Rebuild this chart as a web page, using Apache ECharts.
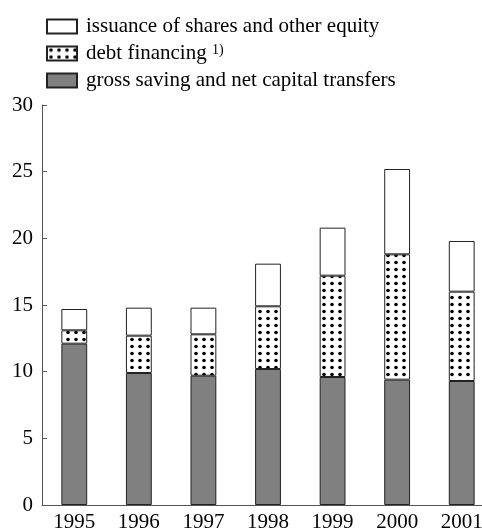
<!DOCTYPE html>
<html>
<head>
<meta charset="utf-8">
<script src="https://cdn.jsdelivr.net/npm/echarts@6/dist/echarts.min.js"></script>
<style>
  html, body { margin: 0; padding: 0; background: #fff; }
  #main { width: 482px; height: 532px; }
</style>
</head>
<body>
<div id="main"></div>
<script>
// data
var years = ["1995", "1996", "1997", "1998", "1999", "2000", "2001"];
var grossSaving = [12.1, 9.9, 9.7, 10.2, 9.6, 9.4, 9.3];
var debtFinancing = [1.0, 2.8, 3.1, 4.7, 7.6, 9.4, 6.7];
var equityIssuance = [1.6, 2.1, 2.0, 3.2, 3.6, 6.4, 3.8];
var yTicks = [0, 5, 10, 15, 20, 25, 30];

(function() {
    var myChart = echarts.init(document.getElementById("main"));

    // dotted fill for debt financing
    var dots = document.createElement("canvas");
    dots.width = 8;
    dots.height = 7;
    var ctx = dots.getContext("2d");
    ctx.fillStyle = "#fff";
    ctx.fillRect(0, 0, 8, 7);
    ctx.fillStyle = "#000";
    ctx.beginPath();
    ctx.arc(4, 3.5, 1.8, 0, Math.PI * 2);
    ctx.fill();

    var font = "Liberation Serif";
    var border = { borderColor: "#222", borderWidth: 1 };

    var option = {
        animation: false,
        textStyle: { fontFamily: font },
        legend: {
            orient: "vertical",
            left: 41,
            top: 11,
            icon: "rect",
            itemWidth: 30,
            itemHeight: 14,
            itemGap: 6,
            data: ["issuance of shares and other equity", "debt financing", "gross saving and net capital transfers"],
            formatter: function(name) {
                return name === "debt financing" ? name + " {sup|1)}" : name;
            },
            textStyle: {
                fontFamily: font,
                fontSize: 21,
                lineHeight: 21,
                color: "#000",
                padding: [0, 0, 0, 4],
                rich: {
                    sup: { fontFamily: font, fontSize: 14, lineHeight: 14, verticalAlign: "top", color: "#000" }
                }
            }
        },
        grid: {
            left: 42,
            top: 105,
            right: -12,
            bottom: 27,
            outerBoundsMode: "none"
        },
        xAxis: {
            type: "category",
            data: years,
            axisLine: { lineStyle: { color: "#555", width: 1 } },
            axisTick: { inside: true, length: 6, lineStyle: { color: "#555" } },
            axisLabel: { color: "#000", fontSize: 21, fontFamily: font, margin: 7 }
        },
        yAxis: {
            type: "value",
            min: yTicks[0],
            max: yTicks[yTicks.length - 1],
            interval: 5,
            axisLine: { show: true, lineStyle: { color: "#555", width: 1 } },
            axisTick: { show: true, inside: true, length: 5, lineStyle: { color: "#555" } },
            axisLabel: { color: "#000", fontSize: 21, fontFamily: font, margin: 9 },
            splitLine: { show: false }
        },
        series: [{
                name: "gross saving and net capital transfers",
                type: "bar",
                stack: "total",
                barWidth: "40%",
                data: grossSaving,
                itemStyle: Object.assign({ color: "#808080" }, border)
            },
            {
                name: "debt financing",
                type: "bar",
                stack: "total",
                barWidth: "40%",
                data: debtFinancing,
                itemStyle: Object.assign({ color: { image: dots, repeat: "repeat" } }, border)
            },
            {
                name: "issuance of shares and other equity",
                type: "bar",
                stack: "total",
                barWidth: "40%",
                data: equityIssuance,
                itemStyle: Object.assign({ color: "#fff" }, border)
            }
        ]
    };

    myChart.setOption(option);
    window.addEventListener("resize", function() {
        myChart.resize();
    });
})();
</script>
</body>
</html>
